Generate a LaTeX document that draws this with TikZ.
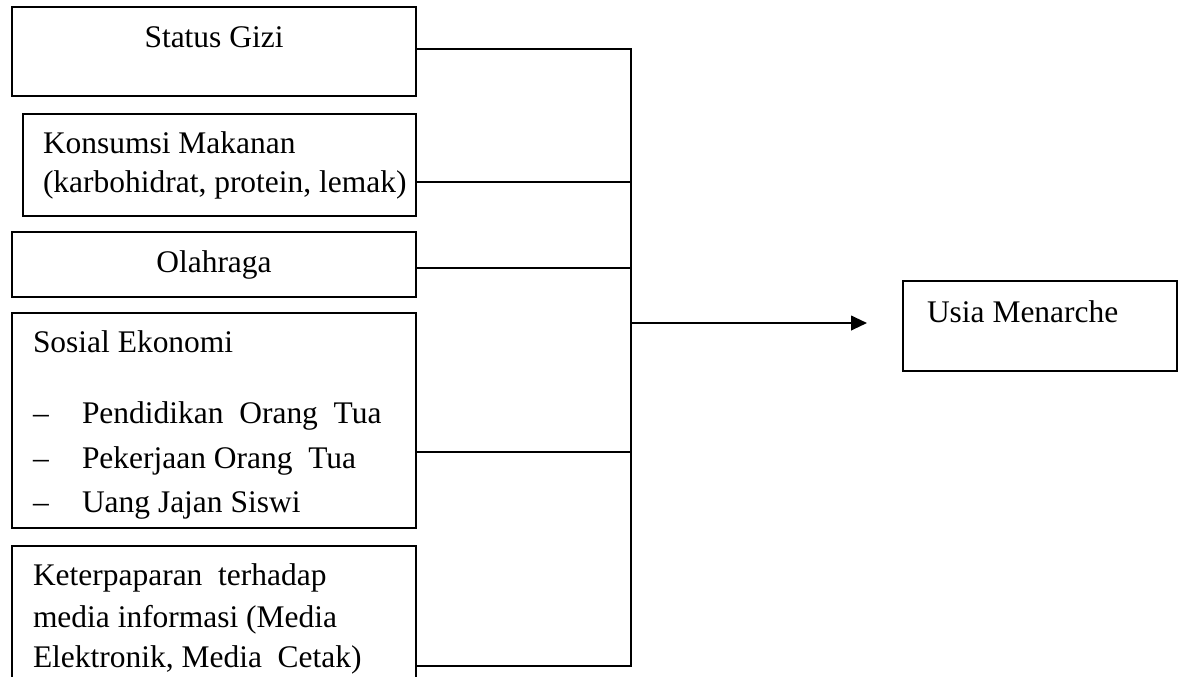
\documentclass[tikz,border=0pt]{standalone}
\usepackage{fontspec}
\setmainfont{Liberation Serif}
\usetikzlibrary{arrows.meta}
\begin{document}
\begin{tikzpicture}[x=0.75pt,y=-0.75pt,
  box/.style={draw=black, line width=1.5pt, anchor=north west, inner sep=0pt, outer sep=0pt},
  txt/.style={inner sep=0pt, outer sep=0pt, font=\fontsize{23.6pt}{30.75pt}\selectfont},
  link/.style={draw=black, line width=1.5pt},
  arr/.style={link, -{Triangle[length=12pt,width=11pt]}}]
\useasboundingbox (0,0) rectangle (1200,676);
\clip (0,0) rectangle (1200,676);
% boxes
\node[box, minimum width={404*0.75pt}, minimum height={89*0.75pt}]  (b1) at (12,7) {};
\node[box, minimum width={393*0.75pt}, minimum height={102*0.75pt}] (b2) at (23,114) {};
\node[box, minimum width={404*0.75pt}, minimum height={65*0.75pt}]  (b3) at (12,232) {};
\node[box, minimum width={404*0.75pt}, minimum height={215*0.75pt}] (b4) at (12,313) {};
\node[box, minimum width={404*0.75pt}, minimum height={154*0.75pt}] (b5) at (12,546) {};
\node[box, minimum width={274*0.75pt}, minimum height={90*0.75pt}]  (usia) at (903,281) {};
% texts
\node[txt, anchor=base] (t1) at (214,47) {Status Gizi};
\node[txt, anchor=base west] (t2a) at (43,153) {Konsumsi Makanan};
\node[txt, anchor=base west] (t2b) at (43,192) {(karbohidrat, protein, lemak)};
\node[txt, anchor=base] (t3) at (214,272) {Olahraga};
\node[txt, anchor=base west] (t4) at (33,352) {Sosial Ekonomi};
\node[txt, anchor=base west] (d1) at (33,423) {–};
\node[txt, anchor=base west] (d2) at (33,468) {–};
\node[txt, anchor=base west] (d3) at (33,512) {–};
\node[txt, anchor=base west] (i1) at (82,423) {Pendidikan\ \ Orang\ \ Tua};
\node[txt, anchor=base west] (i2) at (82,468) {Pekerjaan Orang\ \ Tua};
\node[txt, anchor=base west] (i3) at (82,512) {Uang Jajan Siswi};
\node[txt, anchor=base west] (t5a) at (33,585) {Keterpaparan\ \ terhadap};
\node[txt, anchor=base west] (t5b) at (33,627) {media informasi (Media};
\node[txt, anchor=base west] (t5c) at (33,667) {Elektronik, Media\ \ Cetak)};
\node[txt, anchor=base west] (tu) at (927,322) {Usia Menarche};
% junction coordinates
\coordinate (v1) at (631,49);
\coordinate (v2) at (631,182);
\coordinate (v3) at (631,268);
\coordinate (v4) at (631,452);
\coordinate (v5) at (631,666);
\coordinate (vm) at (631,323);
% connectors
\draw[link] (b1.east |- v1) -- (v1) -- (v5) -- (b5.east |- v5);
\draw[link] (b2.east |- v2) -- (v2);
\draw[link] (b3.east |- v3) -- (v3);
\draw[link] (b4.east |- v4) -- (v4);
\draw[arr, shorten >=27pt] (vm) -- (usia.west |- vm);
\end{tikzpicture}
\end{document}
